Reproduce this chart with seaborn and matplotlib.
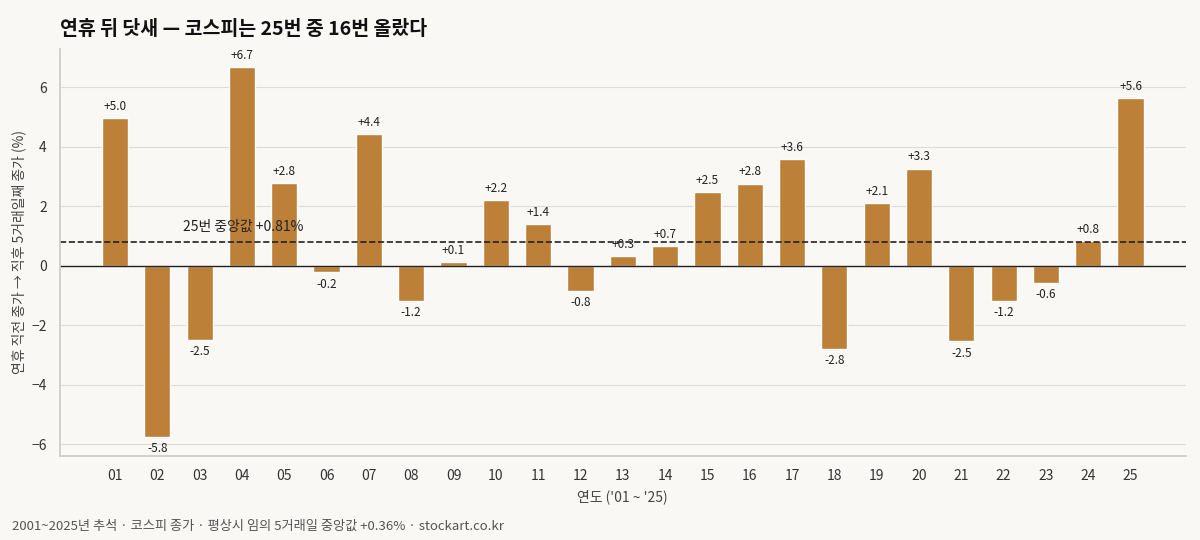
import matplotlib
matplotlib.use("Agg")
import matplotlib.pyplot as plt
import seaborn as sns
import pandas as pd

years = ["01","02","03","04","05","06","07","08","09","10","11","12","13","14","15","16","17","18","19","20","21","22","23","24","25"]
returns = [4.97,-5.75,-2.48,6.68,2.78,-0.22,4.42,-1.17,0.13,2.21,1.41,-0.85,0.33,0.65,2.47,2.76,3.58,-2.78,2.10,3.27,-2.54,-1.18,-0.58,0.83,5.63]
median_val = 0.81

sns.set_theme(style="whitegrid")
plt.rcParams['font.family'] = ['Noto Sans CJK KR', 'DejaVu Sans']
bg = "#f9f8f5"
fig, ax = plt.subplots(figsize=(12, 5.4), dpi=100)
fig.patch.set_facecolor(bg); ax.set_facecolor(bg)
df = pd.DataFrame({"year": years, "ret": returns})
sns.barplot(data=df, x="year", y="ret", color="#bd8038", saturation=1, width=0.62, ax=ax)
for i, v in enumerate(returns):
    lab = f"{v:+.1f}"
    if v >= 0:
        ax.text(i, v + 0.18, lab, ha="center", va="bottom", fontsize=8.5, color="#222")
    else:
        ax.text(i, v - 0.18, lab.replace("-", "-"), ha="center", va="top", fontsize=8.5, color="#222")
ax.axhline(0, color="#222", lw=1)
ax.axhline(median_val, color="#222", lw=1.2, ls="--")
ax.text(1.6, median_val + 0.25, f"25번 중앙값 +{median_val:.2f}%", fontsize=10, color="#222", ha="left", va="bottom")
ax.set_ylim(-6.4, 7.3)
ax.set_xlim(-1.3, 25.3)
ax.grid(axis="x", visible=False)
ax.grid(axis="y", color="#dcdcdc", lw=0.8)
for s in ["top","right"]: ax.spines[s].set_visible(False)
for s in ["left","bottom"]: ax.spines[s].set_color("#cccccc")
ax.tick_params(colors="#333", labelsize=10)
ax.set_xlabel("연도 ('01 ~ '25)", fontsize=10, color="#444")
ax.set_ylabel("연휴 직전 종가 → 직후 5거래일째 종가 (%)", fontsize=10, color="#444")
fig.text(0.05, 0.935, "연휴 뒤 닷새 — 코스피는 25번 중 16번 올랐다", fontsize=14, fontweight="bold", color="#111")
fig.text(0.01, 0.018, "2001~2025년 추석 · 코스피 종가 · 평상시 임의 5거래일 중앙값 +0.36% · stockart.co.kr", fontsize=9.5, color="#555")
plt.subplots_adjust(left=0.05, right=0.988, top=0.91, bottom=0.155)
fig.savefig("out.png", dpi=100, facecolor=bg)
